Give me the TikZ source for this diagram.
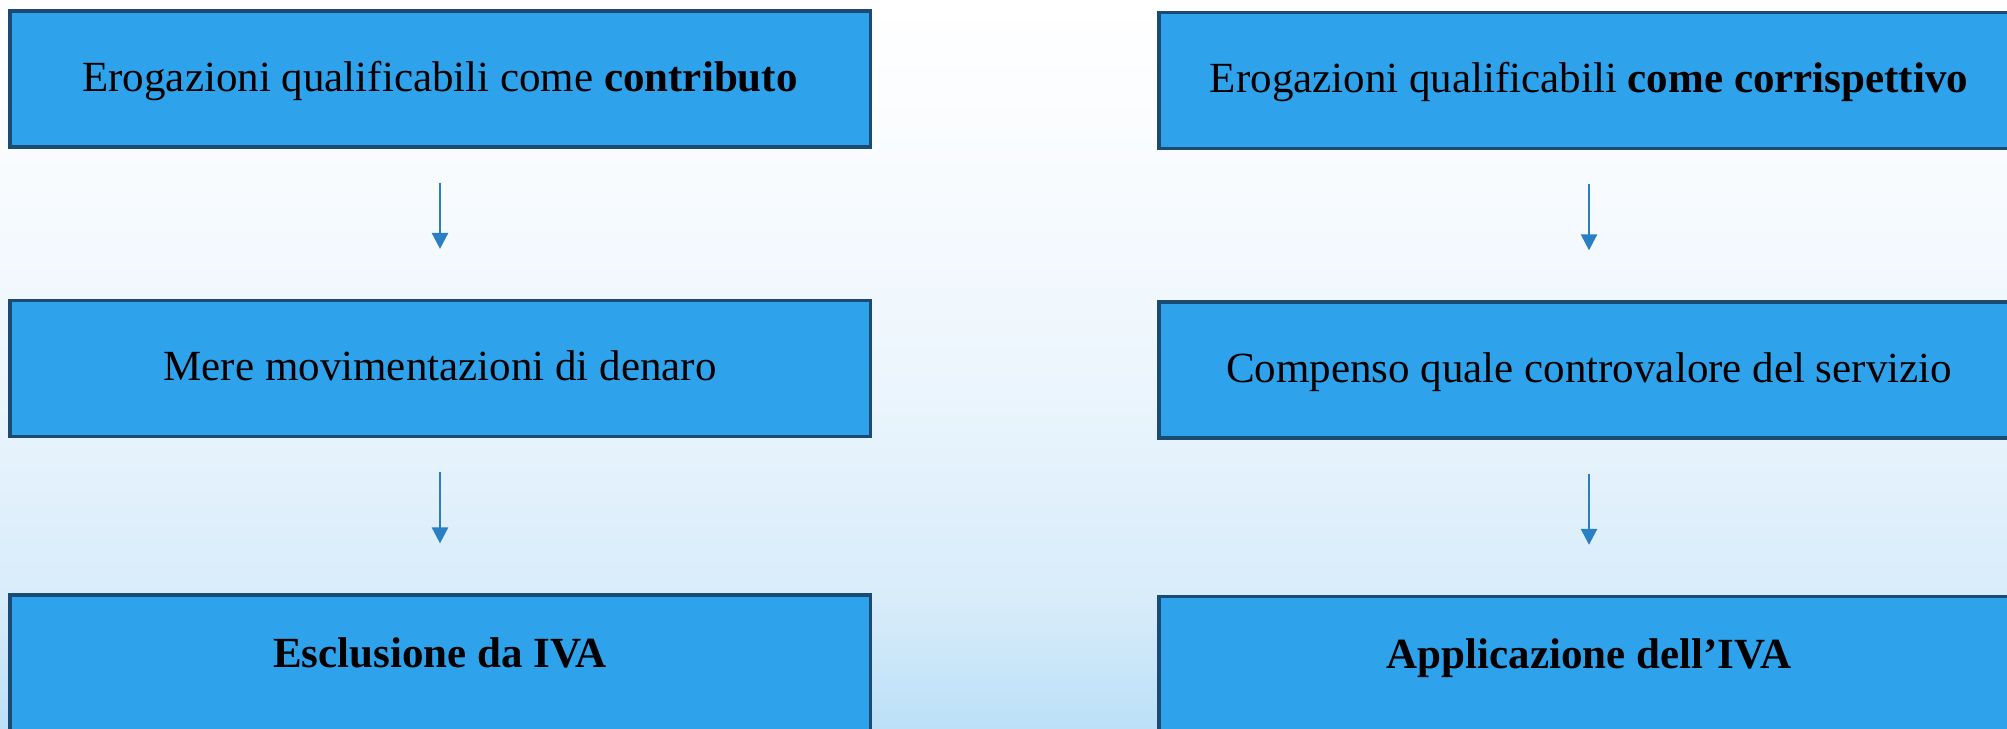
\documentclass[tikz,border=0pt]{standalone}
\usepackage{fontspec}
\setmainfont{Liberation Serif}
\usetikzlibrary{positioning,arrows.meta}
\definecolor{boxblue}{RGB}{47,162,236}
\definecolor{boxedge}{RGB}{27,75,114}
\definecolor{arrowblue}{RGB}{42,126,195}
\definecolor{bgup}{RGB}{248,251,254}
\definecolor{bgmid}{RGB}{237,246,253}
\definecolor{bglow}{RGB}{216,236,250}
\definecolor{bgbot}{RGB}{188,224,248}
\pgfdeclareverticalshading{sfondo}{100bp}{color(0bp)=(bgbot); color(25bp)=(bgbot);
  color(34bp)=(bglow); color(50bp)=(bgmid); color(63bp)=(bgup); color(75bp)=(white);
  color(100bp)=(white)}
\begin{document}
\begin{tikzpicture}[node distance=75pt,
    voce/.style={rectangle,draw=boxedge,fill=boxblue,line width=1.75pt,
        minimum width=430.25pt,minimum height=68pt,inner sep=0pt,
        text height=15pt,text depth=3pt,
        font=\fontsize{21.5pt}{26pt}\selectfont},
    esito/.style={voce,text height=15pt,text depth=11pt},
    freccia/.style={draw=arrowblue,line width=1.25pt,
        -{Triangle[length=8pt,width=8pt]},shorten <=17pt,shorten >=25pt}]
 \path[use as bounding box,shading=sfondo] (0,0) rectangle (1003.5pt,364pt);
 \node[voce] (contributo) at (220pt,324.4pt)
    {Erogazioni qualificabili come \textbf{contributo}};
 \node[voce,below=of contributo] (movimenti) {Mere movimentazioni di denaro};
 \node[esito,below=77.5pt of movimenti] (esclusione) {\textbf{Esclusione da IVA}};
 \node[voce,right=142.5pt of contributo,yshift=-0.7pt] (corrispettivo)
    {Erogazioni qualificabili \textbf{come corrispettivo}};
 \node[voce,below=of corrispettivo] (compenso) {Compenso quale controvalore del servizio};
 \node[esito,below=77.5pt of compenso] (applicazione) {\textbf{Applicazione dell’IVA}};
 \draw[freccia] (contributo) -- (movimenti);
 \draw[freccia] (movimenti) -- (esclusione);
 \draw[freccia] (corrispettivo) -- (compenso);
 \draw[freccia] (compenso) -- (applicazione);
\end{tikzpicture}
\end{document}
